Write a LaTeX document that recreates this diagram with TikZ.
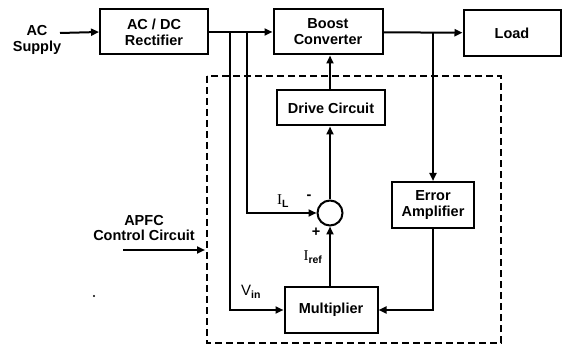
\documentclass[tikz,border=0pt]{standalone}
\usepackage{fontspec}
\setmainfont{Liberation Sans}
\newfontfamily\serifI{Liberation Serif}
\usepackage{tikz}
\usetikzlibrary{arrows.meta,positioning,calc}

\tikzset{
  blk/.style={draw,line width=2pt,align=center,font=\bfseries\fontsize{14.5}{16}\selectfont},
  lbl/.style={align=center,font=\bfseries\fontsize{14.5}{15.5}\selectfont},
  sub/.style={font=\fontsize{15}{17}\selectfont},
  wire/.style={line width=2pt},
  arr/.style={wire,-{Triangle[length=8pt,width=7pt]}},
}

\begin{document}
\begin{tikzpicture}[x=1pt,y=-1pt]
  \useasboundingbox (0,0) rectangle (562,347);

  % 主回路
  \node[lbl] (sup) at (37,40) {AC\\Supply};
  \node[blk,minimum width=108pt,minimum height=45pt] (rect) at (154,32) {AC / DC\\Rectifier};
  \node[blk,minimum width=109pt,minimum height=45pt] (boost) at (328,32) {Boost\\Converter};
  \node[blk,minimum width=97pt,minimum height=46pt] (load) at (512,33) {Load};
  \coordinate (acin) at (60,33);

  % 制御回路
  \draw[line width=2.8pt,dash pattern=on 7pt off 4pt] (207,76) rectangle (501,343);
  \node[blk,minimum width=108pt,minimum height=35pt] (drive) at (331,108) {Drive Circuit};
  \node[draw,line width=2pt,circle,minimum size=25pt,inner sep=0pt] (sum) at (330,213) {};
  \node[blk,minimum width=82pt,minimum height=46pt] (ea) at (433,205) {Error\\Amplifier};
  \node[blk,minimum width=93pt,minimum height=46pt] (mult) at (331,310) {Multiplier};
  \node[lbl] (apfc) at (144,228) {APFC\\Control Circuit};
  \coordinate (apin) at (123,250);
  \coordinate (apout) at (205,250);
  \node[circle,fill=black,inner sep=0.8pt] (dot) at (94,296) {};

  % 分岐点
  \coordinate (j1) at (230,33);
  \coordinate (j2) at (247,33);
  \coordinate (j3) at (433,33);

  % 接続
  \draw[arr] (acin) -- (rect.west);
  \draw[arr] (rect) -- (boost);
  \draw[arr] (boost) -- (load);
  \draw[arr] (j1) |- (mult.west);
  \draw[arr] (j2) |- (sum.west);
  \draw[arr] (j3) -- (ea.north);
  \draw[arr] (ea.south) |- (mult.east);
  \draw[arr] (mult.north -| sum) -- (sum.south);
  \draw[arr] (sum.north) -- (sum.north |- drive.south);
  \draw[arr] (drive.north -| sum) -- (sum |- boost.south);
  \draw[arr] (apin) -- (apout);

  % 信号名
  \node[sub] (il) at (283,201) {{\serifI I}\textsubscript{\bfseries L}};
  \node[sub] (iref) at (313,257) {{\serifI I}\textsubscript{\bfseries ref}};
  \node[sub] (vin) at (251,292) {V\textsubscript{\bfseries in}};
  \node[lbl] (minus) at (309,197) {-};
  \node[lbl] (plus) at (316,232) {+};
\end{tikzpicture}
\end{document}
